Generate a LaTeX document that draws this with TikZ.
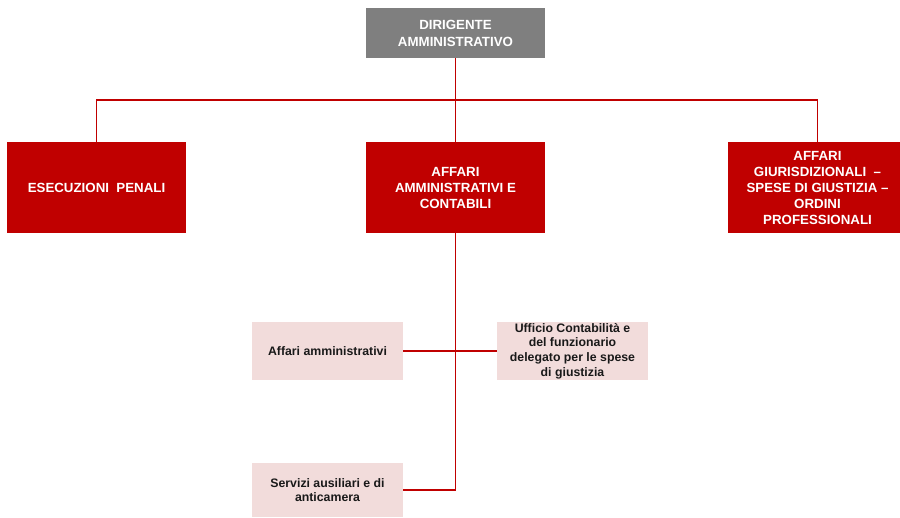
\documentclass[tikz,border=0pt]{standalone}
\usepackage{fontspec}
\setmainfont{Liberation Sans}
\definecolor{rosso}{HTML}{C00000}
\definecolor{grigio}{HTML}{7F7F7F}
\definecolor{rosa}{HTML}{F2DCDB}
\tikzset{
  capo/.style={fill=grigio, text=white, font=\fontsize{13.3}{17}\selectfont\bfseries, align=center, minimum width=179pt, minimum height=50pt, inner sep=0pt},
  area/.style={fill=rosso, text=white, font=\fontsize{13.3}{16}\selectfont\bfseries, align=center, minimum width=179pt, minimum height=91pt, inner sep=0pt},
  ufficio/.style={fill=rosa, text=black!90, font=\fontsize{12.3}{14.8}\selectfont\bfseries, align=center, minimum width=151pt, minimum height=58pt, inner sep=0pt},
  linea/.style={draw=rosso, line width=1.8pt}
}
\begin{document}
\begin{tikzpicture}[x=1pt,y=-1pt]
    \useasboundingbox (0,0) rectangle (900,517);

    % Dirigente
    \node[capo] (dir) at (455.5,33) {DIRIGENTE\\AMMINISTRATIVO};

    % Aree
    \node[area] (ese) at (96.5,187.5) {ESECUZIONI\ \ PENALI};
    \node[area] (aac) at (455.5,187.5) {AFFARI\\AMMINISTRATIVI E\\CONTABILI};
    \node[area] (agi) at (817.5,187.5) {AFFARI\\GIURISDIZIONALI \ --\\SPESE DI GIUSTIZIA --\\ORDINI\\PROFESSIONALI};

    % Uffici
    \node[ufficio] (aff) at (327.5,351) {Affari amministrativi};
    \node[ufficio] (uff) at (572.5,351) {Ufficio Contabilità e\\del funzionario\\delegato per le spese\\di giustizia};
    \node[ufficio, minimum height=54pt] (srv) at (327.5,490) {Servizi ausiliari e di\\anticamera};

    % Collegamenti
    \coordinate (bus) at (455.5,100);
    \draw[linea] (dir.south) -- (aac.north);
    \draw[linea] (ese.north) |- (bus) -| (agi.north);
    \draw[linea] (aac.south) -- (aac.south |- srv.east) -- (srv.east);
    \draw[linea] (aff.east) -- (uff.west);
\end{tikzpicture}
\end{document}
